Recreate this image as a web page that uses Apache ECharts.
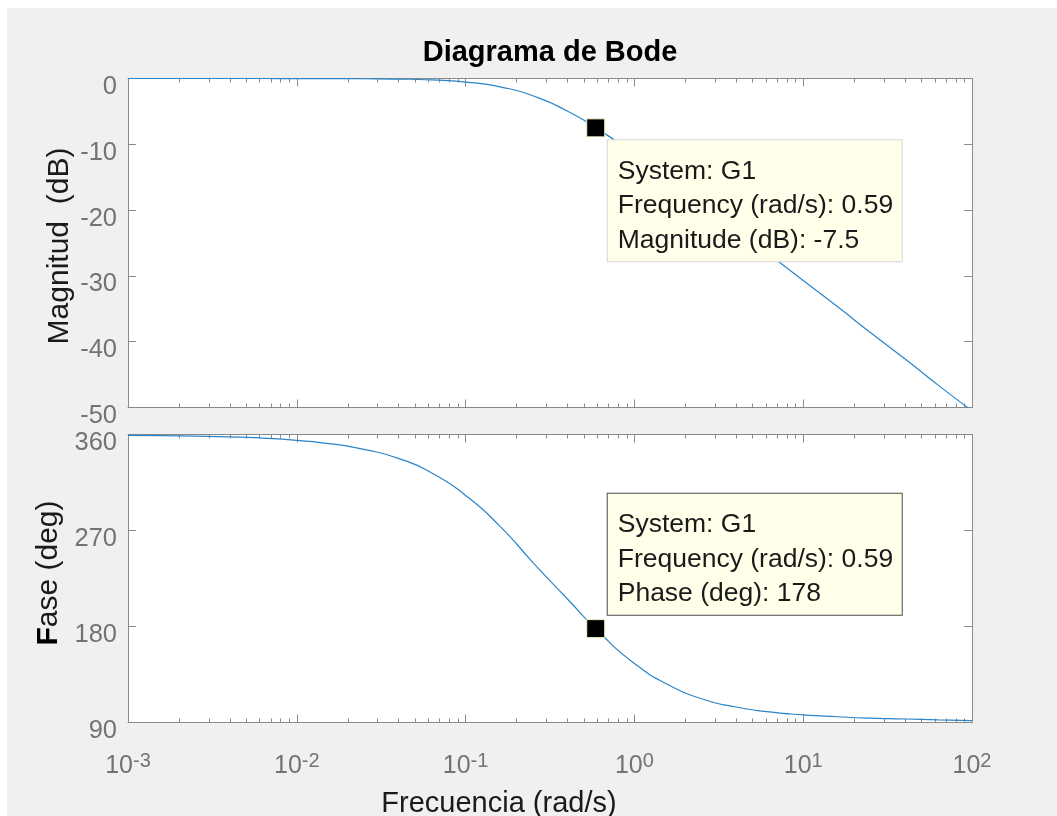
<!DOCTYPE html>
<html>
<head>
<meta charset="utf-8">
<script src="https://cdn.jsdelivr.net/npm/echarts@6/dist/echarts.min.js"></script>
<style>
  html, body { margin: 0; padding: 0; background: #ffffff; }
  #chart { position: absolute; left: 7px; top: 8px; width: 1050px; height: 808px; }
</style>
</head>
<body>
<div id="chart"></div>
<script>
// Bode diagram of system G1: magnitude (dB) and phase (deg) versus frequency (rad/s)
const systemName = 'G1';

// Frequencies spaced roughly every fifth of a decade
const freq = [0.001, 0.0016, 0.0025, 0.004, 0.0063, 0.01, 0.016, 0.025, 0.04, 0.063,
              0.1, 0.16, 0.25, 0.4, 0.63, 1, 1.6, 2.5, 4, 6.3,
              10, 16, 25, 40, 63, 100];
const magDb = [0, 0, 0, 0, 0, -0.01, -0.01, -0.04, -0.09, -0.22,
               -0.54, -1.27, -2.62, -4.94, -7.96, -11.45, -15.2, -18.9, -22.9, -26.75,
               -30.7, -34.7, -38.6, -42.6, -46.6, -50.5];
const phaseDeg = [359.1, 358.9, 358.5, 357.8, 356.6, 354.5, 351.2, 346.0, 337.6, 323.9,
                  302.9, 273.9, 240.2, 206.0, 173.4, 145.4, 125.1, 112.3, 104.5, 100.0,
                  97.2, 95.4, 94.1, 93.3, 92.4, 91.7];

// Data tip readouts
const tipFreq = 0.59;
const tipMagDb = -7.5;
const tipPhaseDeg = 178;

// Axis ranges
const freqRange = [0.001, 100];
const magRange = [-50, 0];
const magStep = 10;
const phaseRange = [90, 360];
const phaseStep = 90;

const FONT = "'Liberation Sans', Arial, Helvetica, sans-serif";
const AXIS_GRAY = '#8a8a8a';
const LABEL_GRAY = '#737373';
const INK = '#1a1a1a';
const CURVE = '#2a84c9';

const chart = echarts.init(document.getElementById('chart'), null, { renderer: 'canvas' });

const axisLine = { show: true, onZero: false, lineStyle: { color: AXIS_GRAY, width: 1 } };
const majorTick = { show: true, inside: true, length: 8, lineStyle: { color: AXIS_GRAY, width: 1 } };

function freqAxis(gridIndex, position, withLabels) {
  const ax = {
    type: 'log', logBase: 10, gridIndex, position,
    min: freqRange[0], max: freqRange[1], splitNumber: 5,
    axisLine, axisTick: majorTick,
    minorTick: { show: false }, splitLine: { show: false },
    axisLabel: { show: false }
  };
  if (withLabels) {
    ax.axisLabel = {
      show: true, margin: 29, fontFamily: FONT,
      formatter: v => '{b|10}{s|' + Math.round(Math.log10(v)) + '}',
      rich: {
        b: { fontSize: 25, lineHeight: 30, color: LABEL_GRAY, fontFamily: FONT },
        s: { fontSize: 20, lineHeight: 14, verticalAlign: 'top', color: LABEL_GRAY, fontFamily: FONT }
      }
    };
    ax.name = 'Frecuencia (rad/s)';
    ax.nameLocation = 'middle';
    ax.nameGap = 67;
    ax.nameMoveOverlap = false;
    ax.nameTextStyle = { fontSize: 29, lineHeight: 28, color: INK, fontFamily: FONT, padding: [0, 102, 0, 0] };
  }
  return ax;
}

function valueAxis(gridIndex, position, range, step, name, nameGap, namePad) {
  const ax = {
    type: 'value', gridIndex, position,
    min: range[0], max: range[1], interval: step,
    axisLine, axisTick: majorTick, splitLine: { show: false },
    axisLabel: { show: false }
  };
  if (name) {
    ax.axisLabel = {
      show: true, margin: 11, color: LABEL_GRAY, fontSize: 25.5, fontFamily: FONT,
      verticalAlign: 'top', lineHeight: 17
    };
    ax.name = name;
    ax.nameLocation = 'middle';
    ax.nameGap = nameGap;
    ax.nameMoveOverlap = false;
    ax.nameTextStyle = {
      fontSize: 30, lineHeight: 30, color: INK, fontFamily: FONT, padding: namePad,
      rich: { f: { fontSize: 30, fontWeight: 'bold', color: '#000', fontFamily: FONT } }
    };
  }
  return ax;
}

// Minor ticks at 2..9 x 10^n, drawn inward from both horizontal edges of a plot
const minorFreqs = [];
for (let e = Math.round(Math.log10(freqRange[0])); e < Math.round(Math.log10(freqRange[1])); e++) {
  for (let k = 2; k <= 9; k++) minorFreqs.push(k * Math.pow(10, e));
}
function minorTickSeries(xi, yi, yBase) {
  return {
    type: 'custom', xAxisIndex: xi, yAxisIndex: yi, silent: true, clip: false, z: 1,
    data: minorFreqs.map(f => [f, yBase]),
    renderItem(params, api) {
      const cs = params.coordSys;
      const x = Math.round(api.coord([api.value(0), api.value(1)])[0]) + 0.5;
      const yb = cs.y + cs.height;
      const yt = cs.y;
      const st = { stroke: AXIS_GRAY, lineWidth: 1 };
      return {
        type: 'group',
        children: [
          { type: 'line', shape: { x1: x, y1: yb, x2: x, y2: yb - 4 }, style: st },
          { type: 'line', shape: { x1: x, y1: yt, x2: x, y2: yt + 4 }, style: st }
        ]
      };
    }
  };
}

function tipSeries(xi, yi, point, text, pos, vAlign, border) {
  return {
    type: 'scatter', xAxisIndex: xi, yAxisIndex: yi, z: 10, silent: true,
    symbol: 'rect', symbolSize: 18,
    itemStyle: { color: '#000000', borderColor: '#f2f2c4', borderWidth: 1, opacity: 1 },
    data: [point],
    label: {
      show: true, position: pos, align: 'left', verticalAlign: vAlign,
      formatter: text,
      backgroundColor: '#ffffea', borderColor: border, borderWidth: 1,
      padding: [14, 8, 3.5, 10], width: 276,
      color: INK, fontSize: 26.5, lineHeight: 34.5, fontFamily: FONT
    }
  };
}

const magText = 'System: ' + systemName + '\nFrequency (rad/s): ' + tipFreq + '\nMagnitude (dB): ' + tipMagDb;
const phaseText = 'System: ' + systemName + '\nFrequency (rad/s): ' + tipFreq + '\nPhase (deg): ' + tipPhaseDeg;

const plotArea = { show: true, backgroundColor: '#ffffff', borderWidth: 0, outerBoundsMode: 'none' };

const option = {
  backgroundColor: '#f0f0f0',
  animation: false,
  title: {
    text: 'Diagrama de Bode', left: 543, top: 31, padding: 0,
    textAlign: 'center', textVerticalAlign: 'top',
    textStyle: { fontSize: 29, lineHeight: 28, fontWeight: 'bold', color: '#000', fontFamily: FONT }
  },
  grid: [
    Object.assign({ left: 121, top: 70.5, width: 844, height: 329 }, plotArea),
    Object.assign({ left: 121, top: 426.5, width: 844, height: 288 }, plotArea)
  ],
  xAxis: [
    freqAxis(0, 'bottom', false),
    freqAxis(0, 'top', false),
    freqAxis(1, 'bottom', true),
    freqAxis(1, 'top', false)
  ],
  yAxis: [
    valueAxis(0, 'left', magRange, magStep, 'Magnitud  (dB)', 53, [0, 6, 0, 0]),
    valueAxis(0, 'right', magRange, magStep),
    valueAxis(1, 'left', phaseRange, phaseStep, '{f|F}ase (deg)', 64, [0, 0, 0, 11]),
    valueAxis(1, 'right', phaseRange, phaseStep)
  ],
  series: [
    minorTickSeries(0, 0, magRange[0]),
    minorTickSeries(2, 2, phaseRange[0]),
    {
      type: 'line', xAxisIndex: 0, yAxisIndex: 0, z: 3,
      data: freq.map((f, i) => [f, magDb[i]]),
      showSymbol: false, smooth: 0.6, clip: true,
      lineStyle: { color: CURVE, width: 1.2 }
    },
    {
      type: 'line', xAxisIndex: 2, yAxisIndex: 2, z: 3,
      data: freq.map((f, i) => [f, phaseDeg[i]]),
      showSymbol: false, smooth: 0.6, clip: true,
      lineStyle: { color: CURVE, width: 1.2 }
    },
    tipSeries(0, 0, [tipFreq, tipMagDb], magText, [21.5, 22], 'top', '#d9d9d9'),
    tipSeries(2, 2, [tipFreq, tipPhaseDeg], phaseText, [21.5, -4.5], 'bottom', '#4d4d4d')
  ]
};

chart.setOption(option);
</script>
</body>
</html>
